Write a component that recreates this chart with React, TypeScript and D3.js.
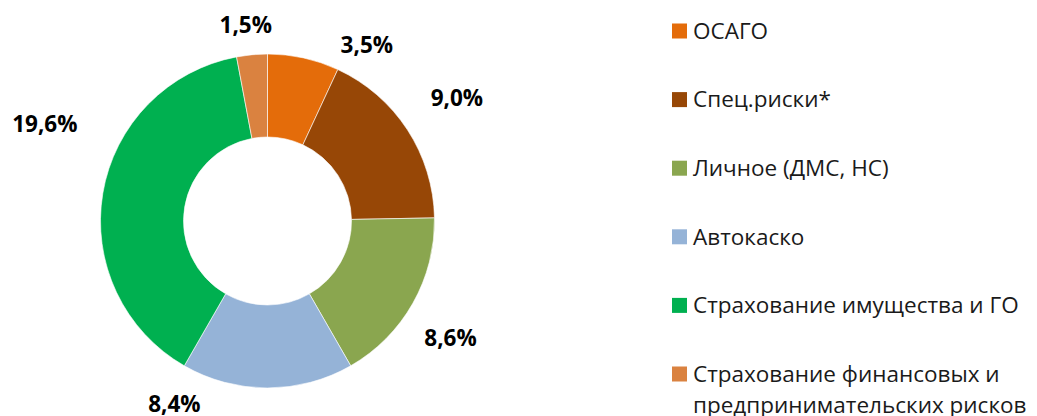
import React, { useEffect, useRef } from "react";
import * as d3 from "d3";

const categories = [
  "ОСАГО",
  "Спец.риски*",
  "Личное (ДМС, НС)",
  "Автокаско",
  "Страхование имущества и ГО",
  "Страхование финансовых и предпринимательских рисков",
];
const values = [3.5, 9.0, 8.6, 8.4, 19.6, 1.5];
const labels = ["3,5%", "9,0%", "8,6%", "8,4%", "19,6%", "1,5%"];
const colors = ["#E46C0A", "#974706", "#8AA64F", "#95B3D7", "#00B050", "#DA8240"];
// legend text, wrapped like the original
const legendLines = [
  ["ОСАГО"],
  ["Спец.риски*"],
  ["Личное (ДМС, НС)"],
  ["Автокаско"],
  ["Страхование имущества и ГО"],
  ["Страхование финансовых и", "предпринимательских рисков"],
];
// excel "best fit" puts labels a bit off the mid angle
const labelShift = [17, 0, 3, 27, 14, -1]; // degrees
const labelRadius = [202, 226, 217, 205, 243, 197];

const width = 1037,
  height = 416;
const cx = 267.5,
  cy = 221;
const outerR = 167,
  innerR = 84;

export default function App() {
  const ref = useRef<SVGSVGElement>(null);

  useEffect(() => {
    const svg = d3.select(ref.current);
    svg.selectAll("*").remove();

    const pie = d3
      .pie<number>()
      .sort(null)
      .value((d) => d);
    const arcs = pie(values);
    const arc = d3.arc<d3.PieArcDatum<number>>().innerRadius(innerR).outerRadius(outerR);

    const g = svg.append("g").attr("transform", `translate(${cx},${cy})`);

    g.selectAll("path")
      .data(arcs)
      .join("path")
      .attr("d", arc)
      .attr("fill", (d, i) => colors[i])
      .attr("stroke", "#ffffff")
      .attr("stroke-opacity", 0.6)
      .attr("stroke-width", 1);

    g.selectAll("text")
      .data(arcs)
      .join("text")
      .attr("transform", (d, i) => {
        const a = (d.startAngle + d.endAngle) / 2 + (labelShift[i] * Math.PI) / 180;
        const r = labelRadius[i];
        return `translate(${r * Math.sin(a)},${-r * Math.cos(a)})`;
      })
      .attr("text-anchor", "middle")
      .attr("dy", "0.35em")
      .attr("font-family", "'Open Sans', sans-serif")
      .attr("font-weight", "bold")
      .attr("font-size", 22.5)
      .attr("fill", "#000")
      .text((d, i) => labels[i]);

    const legend = svg
      .append("g")
      .attr("font-family", "'Open Sans', sans-serif")
      .attr("font-size", 22.5)
      .attr("fill", "#1a1a1a")
      .selectAll("g")
      .data(categories)
      .join("g")
      .attr("transform", (d, i) => `translate(672,${31 + i * 68.6})`);

    legend
      .append("rect")
      .attr("x", 0)
      .attr("y", -7.5)
      .attr("width", 15)
      .attr("height", 15)
      .attr("fill", (d, i) => colors[i]);

    legend
      .append("text")
      .attr("x", 21)
      .selectAll("tspan")
      .data((d, i) => legendLines[i])
      .join("tspan")
      .attr("x", 21)
      .attr("dy", (d, j) => (j === 0 ? "0.35em" : 31))
      .text((d) => d);
  }, []);

  return (
    <svg
      ref={ref}
      width={width}
      height={height}
      style={{ position: "absolute", left: 0, top: 0, background: "#fff" }}
    />
  );
}
